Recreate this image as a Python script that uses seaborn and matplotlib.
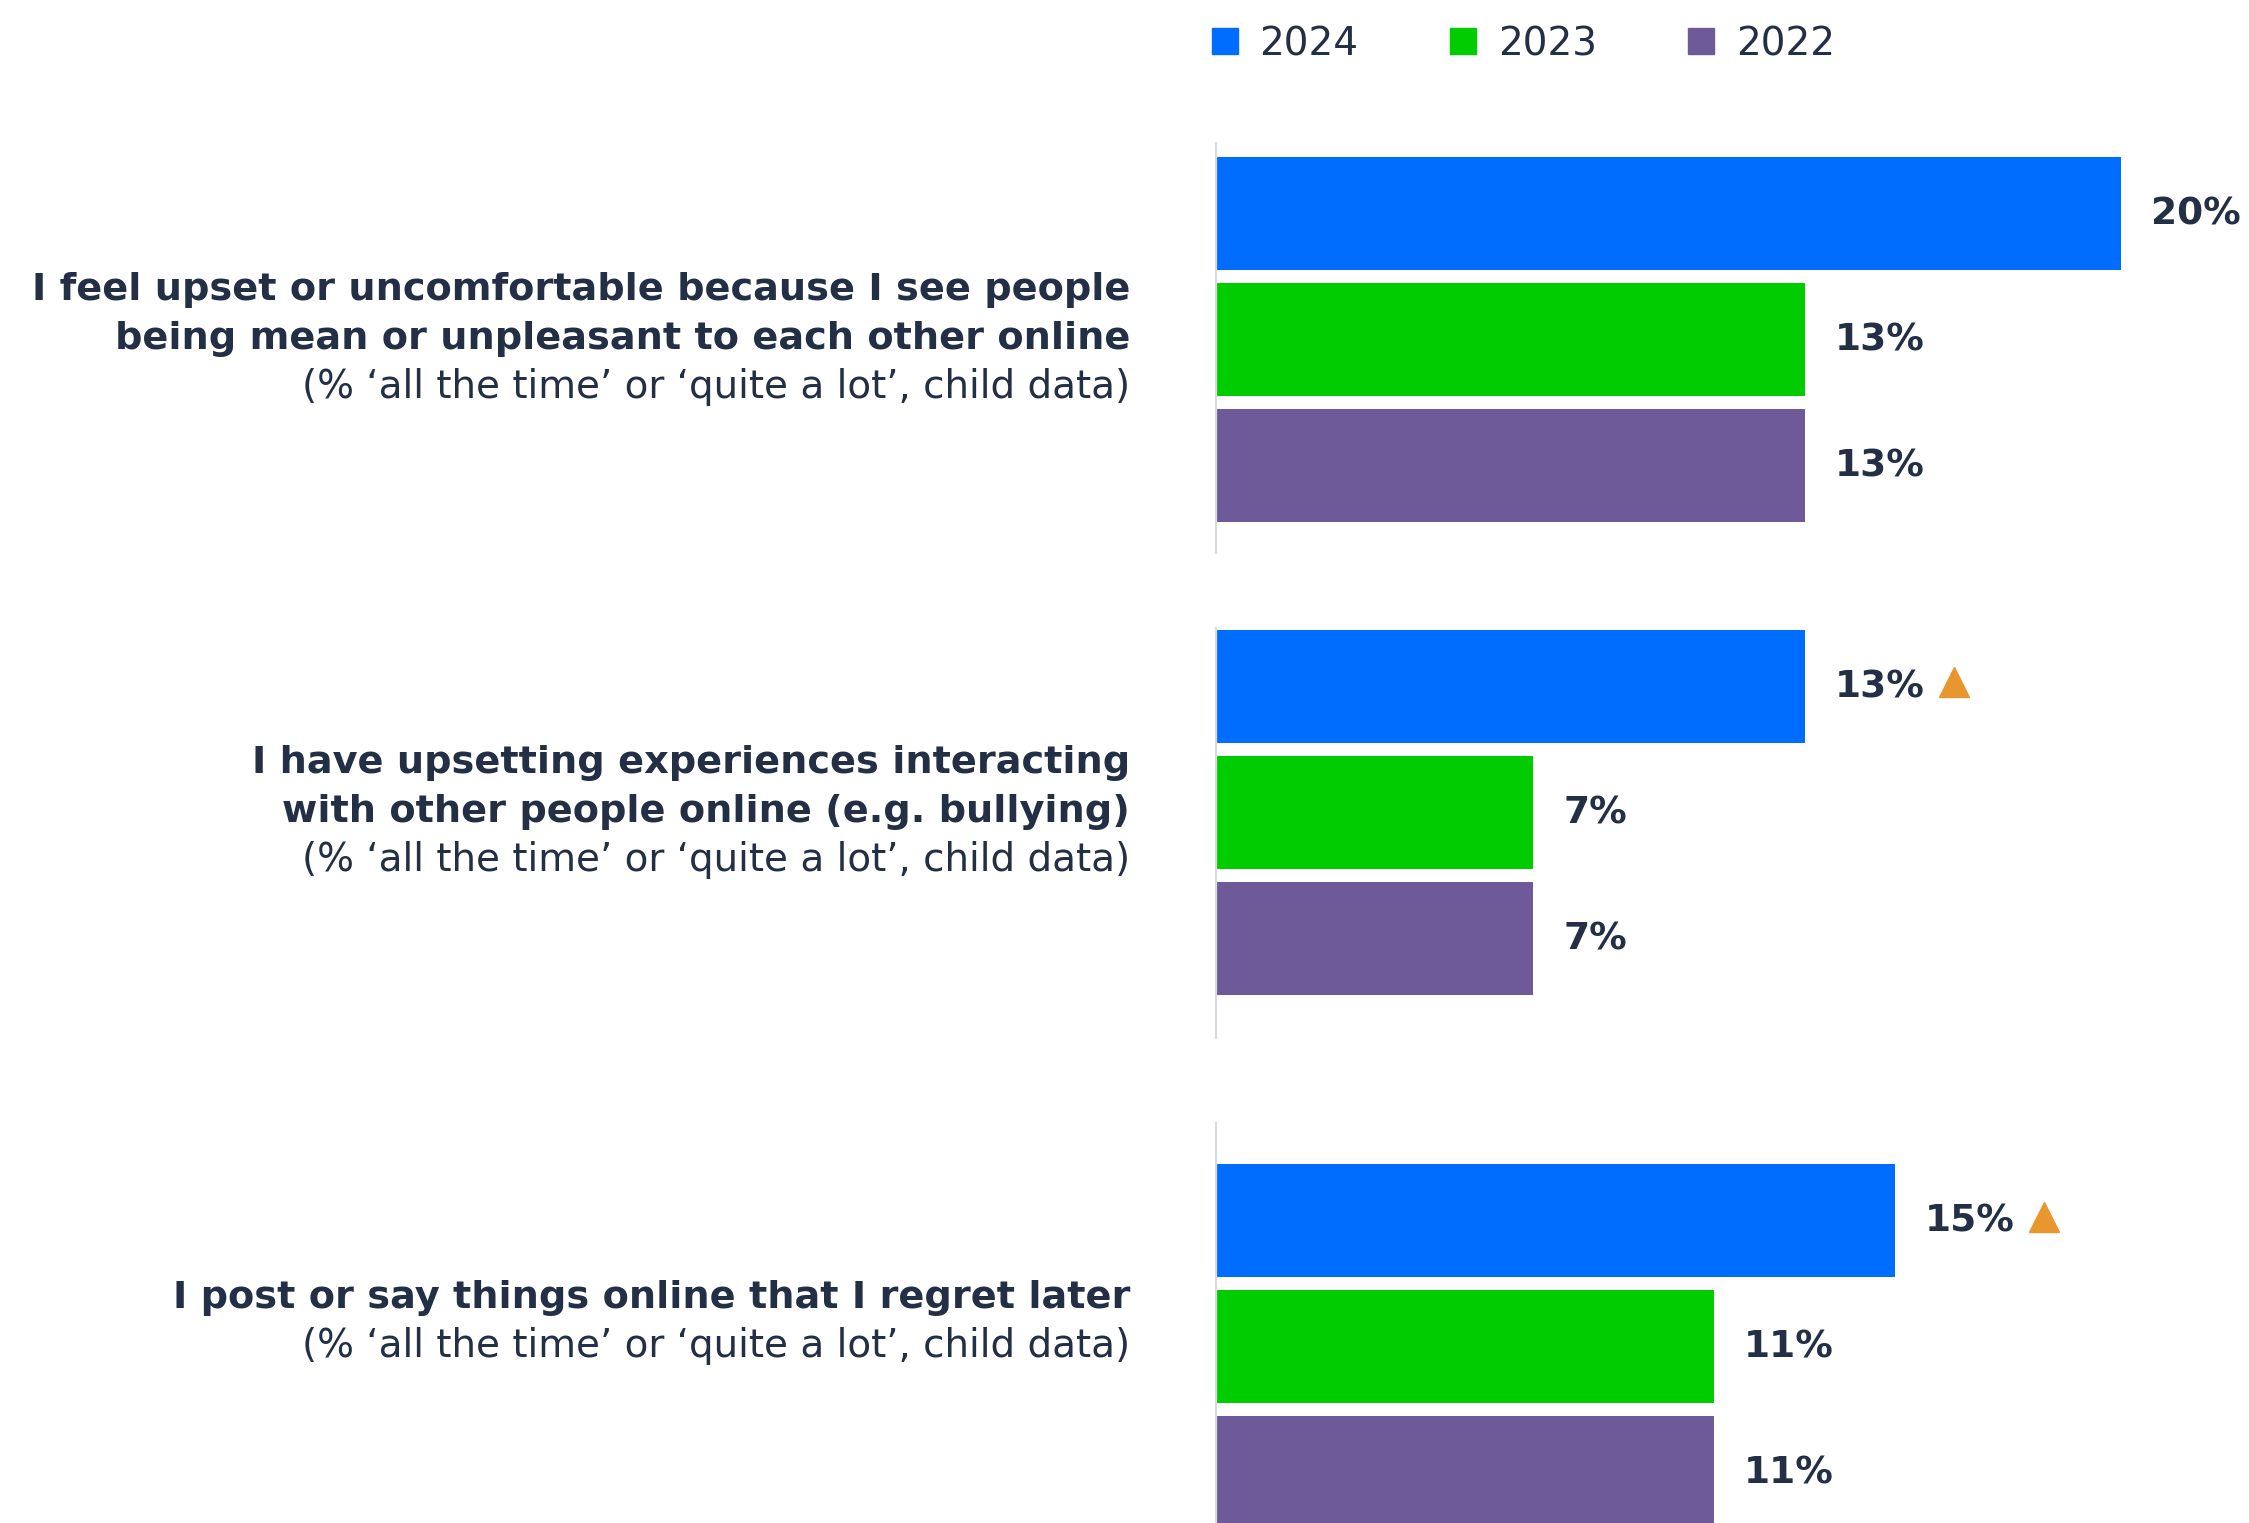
import matplotlib
matplotlib.use("Agg")
import matplotlib.pyplot as plt
import seaborn as sns
import pandas as pd
from matplotlib.lines import Line2D
from matplotlib.transforms import blended_transform_factory

# ---- data -------------------------------------------------------------
years = ["2024", "2023", "2022"]
question_titles = [
    ["I feel upset or uncomfortable because I see people",
     "being mean or unpleasant to each other online"],
    ["I have upsetting experiences interacting",
     "with other people online (e.g. bullying)"],
    ["I post or say things online that I regret later"],
]
question_note = "(% \u2018all the time\u2019 or \u2018quite a lot\u2019, child data)"
values_2024 = [20, 13, 15]
values_2023 = [13, 7, 11]
values_2022 = [13, 7, 11]
increase_2024 = [True, True, True]   # significant rise vs previous year

# ---- style ------------------------------------------------------------
palette = {"2024": "#006dff", "2023": "#00cc00", "2022": "#6f5a99"}
TEXT = "#232f45"
SPINE = "#d8dbdf"
ARROW = "#e8972e"

sns.set_theme(style="white")
plt.rcParams["font.family"] = ["DejaVu Sans"]

W, H = 2249, 1523
fig = plt.figure(figsize=(W / 100, H / 100), dpi=100)
fig.patch.set_facecolor("white")

AX_LEFT = 1217
PX_PER_PCT = 45.2
XMAX = (W - AX_LEFT) / PX_PER_PCT

# panel frames in pixels (top, bottom) and their category-axis limits
frames = [(143, 553), (628, 1038), (1123, 1523)]
ylims = [(2.694, -0.56), (2.79, -0.464), (2.397, -0.774)]

LINE_START = 0.61
LINE_STEP = 0.385
TEXT_RIGHT = 1130

axes = []
labels = []
for i in range(3):
    top, bottom = frames[i]
    ax = fig.add_axes([AX_LEFT / W, 1 - bottom / H,
                       (W - AX_LEFT) / W, (bottom - top) / H])
    df = pd.DataFrame({"year": years,
                       "value": [values_2024[i], values_2023[i], values_2022[i]]})
    sns.barplot(data=df, x="value", y="year", hue="year", order=years,
                hue_order=years, palette=palette, saturation=1, width=0.897,
                dodge=False, legend=False, linewidth=0, ax=ax)
    ax.set_xlim(0, XMAX)
    ax.set_ylim(*ylims[i])
    ax.set_xlabel("")
    ax.set_ylabel("")
    ax.set_xticks([])
    ax.set_yticks([])
    for s in ["top", "right", "bottom"]:
        ax.spines[s].set_visible(False)
    ax.spines["left"].set_color(SPINE)
    ax.spines["left"].set_linewidth(1.6)
    ax.spines["left"].set_position(("outward", 1))
    ax.patch.set_alpha(0)

    # value labels
    for j, y in enumerate(years):
        v = df["value"].iloc[j]
        t = ax.annotate(f"{v}%", xy=(v, j), xytext=(30, -1),
                        textcoords="offset pixels", va="center", ha="left",
                        fontsize=27, fontweight="bold", color=TEXT,
                        annotation_clip=False)
        labels.append((ax, t, j, i, y))

    # question text to the left of each panel
    tr = blended_transform_factory(fig.transFigure, ax.transData)
    lines = question_titles[i]
    for k, line in enumerate(lines):
        fig.text(TEXT_RIGHT / W, LINE_START + k * LINE_STEP, line,
                 transform=tr, ha="right", va="center", fontsize=27.5,
                 fontweight="bold", color=TEXT)
    fig.text(TEXT_RIGHT / W, LINE_START + len(lines) * LINE_STEP,
             question_note, transform=tr, ha="right", va="center",
             fontsize=28, color=TEXT)
    axes.append(ax)

# legend
handles = [Line2D([], [], marker="s", linestyle="", markersize=19.4,
                  color=palette[y]) for y in years]
fig.legend(handles, years, loc="upper left",
           bbox_to_anchor=(1209 / W, 1 - 25 / H), ncol=3, frameon=False,
           fontsize=28, handlelength=0.8, handletextpad=0.5,
           columnspacing=2.28, borderpad=0, borderaxespad=0, labelcolor=TEXT)

# rise markers after the 2024 labels
fig.canvas.draw()
renderer = fig.canvas.get_renderer()
for ax, t, j, i, y in labels:
    if y == "2024" and increase_2024[i]:
        bb = t.get_window_extent(renderer)
        ydisp = ax.transData.transform((0, j))[1] + 4
        xd, yd = ax.transData.inverted().transform((bb.x1 + 14 + 15.5, ydisp))
        ax.plot([xd], [yd], marker="^", markersize=22.3, color=ARROW,
                linestyle="", clip_on=False)

fig.savefig("out.png", dpi=100, facecolor="white")
